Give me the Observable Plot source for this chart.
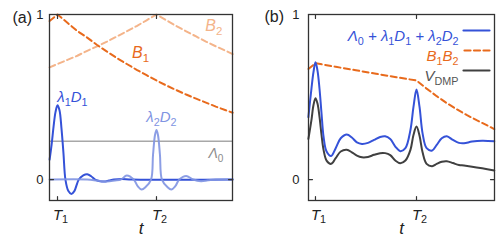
<!DOCTYPE html>
<html>
<head>
<meta charset="utf-8">
<script src="https://cdn.jsdelivr.net/npm/d3@7"></script>
<script src="https://cdn.jsdelivr.net/npm/@observablehq/plot@0.6"></script>
<style>
  html, body { margin: 0; padding: 0; background: #fff; }
  #wrap { display: flex; width: 500px; height: 244px; }
  svg { font-family: "Liberation Sans", Arial, sans-serif; }
</style>
</head>
<body>
<div id="wrap"></div>
<script>
// ---------- data ----------
const xTicks = [0, 1];
const xTickLabels = ["T_1", "T_2"];
const yTicks = [0, 1];
const yTickLabels = ["0", "1"];

// panel (a)
const tB = [-0.08, 0, 0.1, 0.2, 0.3, 0.4, 0.5, 0.6, 0.7, 0.8, 0.9, 1.0, 1.1, 1.2, 1.3, 1.4, 1.5, 1.6, 1.7, 1.77];
const B1 = [0.96, 1.0, 0.95, 0.90, 0.86, 0.815, 0.775, 0.736, 0.70, 0.665, 0.632, 0.60, 0.57, 0.542, 0.515, 0.49, 0.466, 0.442, 0.42, 0.405];
const B2 = [0.68, 0.70, 0.725, 0.75, 0.78, 0.807, 0.836, 0.867, 0.898, 0.93, 0.965, 1.0, 0.965, 0.93, 0.898, 0.867, 0.836, 0.807, 0.78, 0.76];

const tL1 = [-0.08, -0.06, -0.04, -0.02, 0, 0.02, 0.04, 0.06, 0.08, 0.11, 0.14, 0.17, 0.215, 0.26, 0.30, 0.34, 0.38, 0.43, 0.47, 0.52, 0.57, 0.65, 0.75, 1.77];
const L1  = [0.12, 0.21, 0.32, 0.41, 0.45, 0.42, 0.31, 0.16, 0.0, -0.07, -0.087, -0.07, 0.0, 0.025, 0.032, 0.02, 0.0, -0.01, -0.012, -0.006, 0.0, 0.004, 0.0, 0.0];

const tL2 = [-0.08, 0.3, 0.40, 0.50, 0.58, 0.64, 0.70, 0.77, 0.81, 0.85, 0.89, 0.945, 0.965, 0.985, 1.0, 1.015, 1.035, 1.055, 1.11, 1.15, 1.19, 1.23, 1.30, 1.37, 1.45, 1.52, 1.6, 1.77];
const L2  = [0, 0, -0.006, -0.012, -0.006, 0, 0.024, 0, -0.04, -0.06, -0.045, 0, 0.15, 0.27, 0.30, 0.27, 0.15, 0, -0.045, -0.06, -0.04, 0, 0.022, 0, -0.01, -0.005, 0, 0];

const lambda0 = 0.232;

// panel (b)
const tBB = [-0.07, 0, 0.2, 0.4, 0.6, 0.8, 1.0, 1.1, 1.2, 1.3, 1.4, 1.5, 1.6, 1.7, 1.77];
const BB  = [0.67, 0.705, 0.683, 0.662, 0.641, 0.62, 0.60, 0.551, 0.505, 0.463, 0.425, 0.39, 0.358, 0.328, 0.305];

const tS = [-0.07, -0.04, -0.02, 0, 0.02, 0.04, 0.06, 0.08, 0.11, 0.155, 0.2, 0.25, 0.31, 0.36, 0.41, 0.46, 0.52, 0.58, 0.64, 0.69, 0.74, 0.79, 0.84, 0.89, 0.94, 0.97, 1.0, 1.03, 1.06, 1.1, 1.155, 1.2, 1.25, 1.30, 1.36, 1.42, 1.47, 1.55, 1.65, 1.77];
const Ssum = [0.378, 0.55, 0.65, 0.71, 0.66, 0.55, 0.40, 0.26, 0.17, 0.143, 0.19, 0.25, 0.273, 0.255, 0.225, 0.216, 0.222, 0.24, 0.258, 0.262, 0.245, 0.20, 0.172, 0.19, 0.30, 0.44, 0.545, 0.44, 0.28, 0.19, 0.176, 0.21, 0.25, 0.262, 0.24, 0.222, 0.22, 0.23, 0.235, 0.232];
const Vdmp = [0.246, 0.36, 0.45, 0.493, 0.46, 0.38, 0.27, 0.18, 0.115, 0.095, 0.13, 0.17, 0.18, 0.165, 0.145, 0.135, 0.137, 0.15, 0.16, 0.16, 0.148, 0.115, 0.099, 0.115, 0.18, 0.27, 0.321, 0.265, 0.165, 0.095, 0.081, 0.095, 0.108, 0.111, 0.10, 0.088, 0.085, 0.078, 0.068, 0.055];

// annotations (panel a)
const labelsA = [
  {t: 1.58, v: 0.93, text: "B_2", color: "#f4b48a", size: 16},
  {t: 0.84, v: 0.77, text: "B_1", color: "#e86a1c", size: 16},
  {t: 0.15, v: 0.50, text: "λ_1D_1", color: "#3552d8", size: 15},
  {t: 1.05, v: 0.375, text: "λ_2D_2", color: "#8094e2", size: 15},
  {t: 1.60, v: 0.155, text: "Λ_0", color: "#8c8c8c", size: 14}
];
const legendB = ["Λ_0 + λ_1D_1 + λ_2D_2", "B_1B_2", "V_{DMP}"];

// ---------- styles ----------
const C = {
  blue: "#3552d8", lblue: "#8094e2", orange: "#e86a1c", lorange: "#f4b48a",
  gray: "#a8a8a8", dark: "#404040", frame: "#333333", text: "#222222"
};
const yDomain = [-0.127, 1.0];

const rows = (ts, vs) => ts.map((t, i) => ({t, v: vs[i]}));

function richify(root) {
  const ns = "http://www.w3.org/2000/svg";
  root.querySelectorAll("text").forEach(el => {
    const s = el.textContent;
    if (!s.includes("_")) return;
    el.textContent = "";
    const re = /_\{([^}]*)\}|_(.)|([^_]+)/g;
    let m, sub = false;
    while ((m = re.exec(s))) {
      const ts = document.createElementNS(ns, "tspan");
      if (m[3] !== undefined) {
        ts.textContent = m[3];
        if (sub) { ts.setAttribute("dy", "-0.25em"); sub = false; }
      } else {
        ts.textContent = m[1] ?? m[2];
        ts.setAttribute("font-size", "72%");
        ts.setAttribute("font-style", "normal");
        if (!sub) ts.setAttribute("dy", "0.35em");
        sub = true;
      }
      el.appendChild(ts);
    }
  });
}

function frameMarks(tickPad) {
  const tk = {length: 4, r: 0, anchor: "start", stroke: C.frame, strokeWidth: 1.2};
  return [
    Plot.vector(xTicks, {...tk, x: d => d, frameAnchor: "bottom", rotate: 0}),
    Plot.vector(xTicks, {...tk, x: d => d, frameAnchor: "top", rotate: 180}),
    Plot.vector(yTicks, {...tk, y: d => d, frameAnchor: "left", rotate: 90}),
    Plot.vector(yTicks, {...tk, y: d => d, frameAnchor: "right", rotate: 270}),
    Plot.text(xTicks, {x: d => d, text: (d, i) => xTickLabels[i], frameAnchor: "bottom", dy: 19, dx: 3, fontSize: 15, fontStyle: "italic", fill: C.text}),
    Plot.text(["t"], {text: d => d, frameAnchor: "bottom", dy: 33, fontSize: 17, fontStyle: "italic", fill: C.text}),
    Plot.text(yTicks, {y: d => d, text: (d, i) => yTickLabels[i], frameAnchor: "left", dx: -tickPad, textAnchor: "end", fontSize: 13, fill: C.text}),
    Plot.frame({stroke: C.frame, strokeWidth: 1.3})
  ];
}

// ---------- panel (a) ----------
const plotA = Plot.plot({
  width: 250, height: 244,
  marginLeft: 49, marginRight: 18, marginTop: 14, marginBottom: 44,
  x: {domain: [-0.081, 1.768], axis: null},
  y: {domain: yDomain, axis: null},
  style: {fontFamily: "Liberation Sans, Arial, sans-serif", fontSize: "12px", overflow: "visible"},
  marks: [
    Plot.ruleY([lambda0], {stroke: C.gray, strokeWidth: 1.4}),
    Plot.line(rows(tB, B2), {x: "t", y: "v", stroke: C.lorange, strokeWidth: 2, strokeDasharray: "6,3.5"}),
    Plot.line(rows(tB, B1), {x: "t", y: "v", stroke: C.orange, strokeWidth: 2, strokeDasharray: "6,3.5"}),
    Plot.line(rows(tL1, L1), {x: "t", y: "v", stroke: C.blue, strokeWidth: 2, curve: "catmull-rom"}),
    Plot.line(rows(tL2, L2), {x: "t", y: "v", stroke: C.lblue, strokeWidth: 2, curve: "catmull-rom", strokeOpacity: 0.9}),
    Plot.text(labelsA, {x: "t", y: "v", text: "text", fill: "color", fontSize: d => d.size, fontStyle: "italic"}),
    Plot.text(["(a)"], {text: d => d, frameAnchor: "top-left", dx: -37, dy: -3, fontSize: 16, fill: C.text}),
    ...frameMarks(6)
  ]
});

// ---------- panel (b) ----------
const legColors = [C.blue, C.orange, C.dark];
const legDash = [null, "6,3.5", null];
const legendMarks = legendB.flatMap((s, i) => [
  Plot.text([s], {text: d => d, frameAnchor: "top-right", dx: -36, dy: 16 + 20 * i, textAnchor: "end", fontSize: 15, fontStyle: "italic", fill: i === 2 ? "#555555" : legColors[i]}),
  Plot.vector([0], {frameAnchor: "top-right", dx: -5, dy: 16 + 20 * i, rotate: 270, anchor: "start", length: 26, r: 0, stroke: legColors[i], strokeWidth: 2.2, strokeDasharray: legDash[i]})
]);

const plotB = Plot.plot({
  width: 250, height: 244,
  marginLeft: 58, marginRight: 6, marginTop: 14, marginBottom: 44,
  x: {domain: [-0.069, 1.772], axis: null},
  y: {domain: yDomain, axis: null},
  style: {fontFamily: "Liberation Sans, Arial, sans-serif", fontSize: "12px", overflow: "visible"},
  marks: [
    Plot.line(rows(tBB, BB), {x: "t", y: "v", stroke: C.orange, strokeWidth: 2, strokeDasharray: "6,3.5"}),
    Plot.line(rows(tS, Vdmp), {x: "t", y: "v", stroke: C.dark, strokeWidth: 2, curve: "catmull-rom"}),
    Plot.line(rows(tS, Ssum), {x: "t", y: "v", stroke: C.blue, strokeWidth: 2, curve: "catmull-rom"}),
    ...legendMarks,
    Plot.text(["(b)"], {text: d => d, frameAnchor: "top-left", dx: -44, dy: -3.5, fontSize: 16, fill: C.text}),
    ...frameMarks(9)
  ]
});

richify(plotA);
richify(plotB);
const wrap = document.getElementById("wrap");
wrap.appendChild(plotA);
wrap.appendChild(plotB);
</script>
</body>
</html>
